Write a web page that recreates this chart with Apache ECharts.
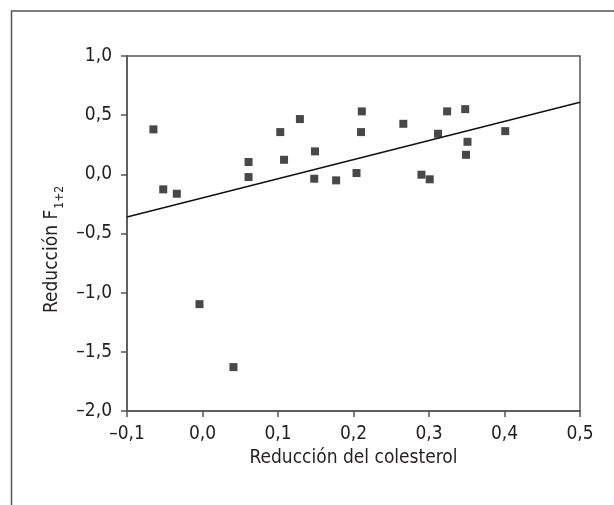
<!DOCTYPE html>
<html>
<head>
<meta charset="utf-8">
<script src="https://cdn.jsdelivr.net/npm/echarts@6/dist/echarts.min.js"></script>
<style>
  html, body { margin: 0; padding: 0; background: #fff; }
  #chart { width: 614px; height: 505px; }
</style>
</head>
<body>
<div id="chart"></div>
<script>
// data
var reduccionCol = [-0.065, -0.052, -0.034, -0.004, 0.041, 0.061, 0.061, 0.103, 0.108, 0.129,
  0.149, 0.148, 0.177, 0.204, 0.211, 0.210, 0.266, 0.290, 0.301, 0.312,
  0.324, 0.348, 0.351, 0.349, 0.401];
var reduccionF = [0.38, -0.127, -0.164, -1.097, -1.629, 0.104, -0.023, 0.357, 0.123, 0.467,
  0.194, -0.037, -0.051, 0.011, 0.532, 0.357, 0.427, -0.003, -0.042, 0.343,
  0.532, 0.551, 0.275, 0.165, 0.365];
// regression line ends
var fitX = [-0.1, 0.5];
var fitY = [-0.36, 0.61];

var font = "'Liberation Sans Narrow', 'DejaVu Sans Condensed', sans-serif";
var ink = '#231f20';
var axisGrey = '#555';

function fmt(v) {
  var s = Math.abs(v).toFixed(1).replace('.', ',');
  return v < -1e-9 ? '\u2013' + s : s;
}

var points = reduccionCol.map(function (x, i) { return [x, reduccionF[i]]; });
var fitLine = fitX.map(function (x, i) { return [x, fitY[i]]; });

var chart = echarts.init(document.getElementById('chart'));
chart.setOption({
  animation: false,
  backgroundColor: '#fff',
  grid: {
    left: 127, right: 34, top: 56, bottom: 94,
    show: true, borderColor: axisGrey, borderWidth: 1.5,
    outerBoundsMode: 'none'
  },
  graphic: [{
    type: 'polyline',
    shape: { points: [[11.5, 505], [11.5, 11], [614, 11]] },
    style: { stroke: axisGrey, lineWidth: 1.5, fill: null }
  }],
  xAxis: {
    type: 'value',
    min: -0.1, max: 0.5, interval: 0.1,
    name: 'Reducción del colesterol',
    nameLocation: 'middle',
    nameGap: 36,
    nameTextStyle: { fontFamily: font, fontSize: 19, color: ink },
    axisLine: { show: true, onZero: false, lineStyle: { color: axisGrey, width: 1.5 } },
    axisTick: { show: true, length: 6, lineStyle: { color: axisGrey, width: 1.5 } },
    axisLabel: { fontFamily: font, fontSize: 19, color: ink, margin: 14, formatter: fmt },
    splitLine: { show: false }
  },
  yAxis: {
    type: 'value',
    min: -2, max: 1, interval: 0.5,
    name: '{a|Reducción F}{b|1+2}',
    nameLocation: 'middle',
    nameGap: 56,
    nameRotate: 90,
    nameTextStyle: {
      fontFamily: font, color: ink, padding: [0, 32, 0, 0],
      rich: {
        a: { fontFamily: font, fontSize: 19, lineHeight: 19, color: ink, verticalAlign: 'top' },
        b: { fontFamily: font, fontSize: 12, lineHeight: 12, color: ink, padding: [14, 0, 0, 1] }
      }
    },
    axisLine: { show: true, onZero: false, lineStyle: { color: axisGrey, width: 1.5 } },
    axisTick: { show: true, length: 6, lineStyle: { color: axisGrey, width: 1.5 } },
    axisLabel: { fontFamily: font, fontSize: 19, color: ink, margin: 15, formatter: fmt },
    splitLine: { show: false }
  },
  series: [{
    type: 'line',
    data: fitLine,
    symbol: 'none',
    lineStyle: { color: '#111', width: 1.5 },
    z: 2
  }, {
    type: 'scatter',
    data: points,
    symbol: 'rect',
    symbolSize: 8,
    itemStyle: { color: '#1c1a1b' },
    z: 3
  }]
});
</script>
</body>
</html>
